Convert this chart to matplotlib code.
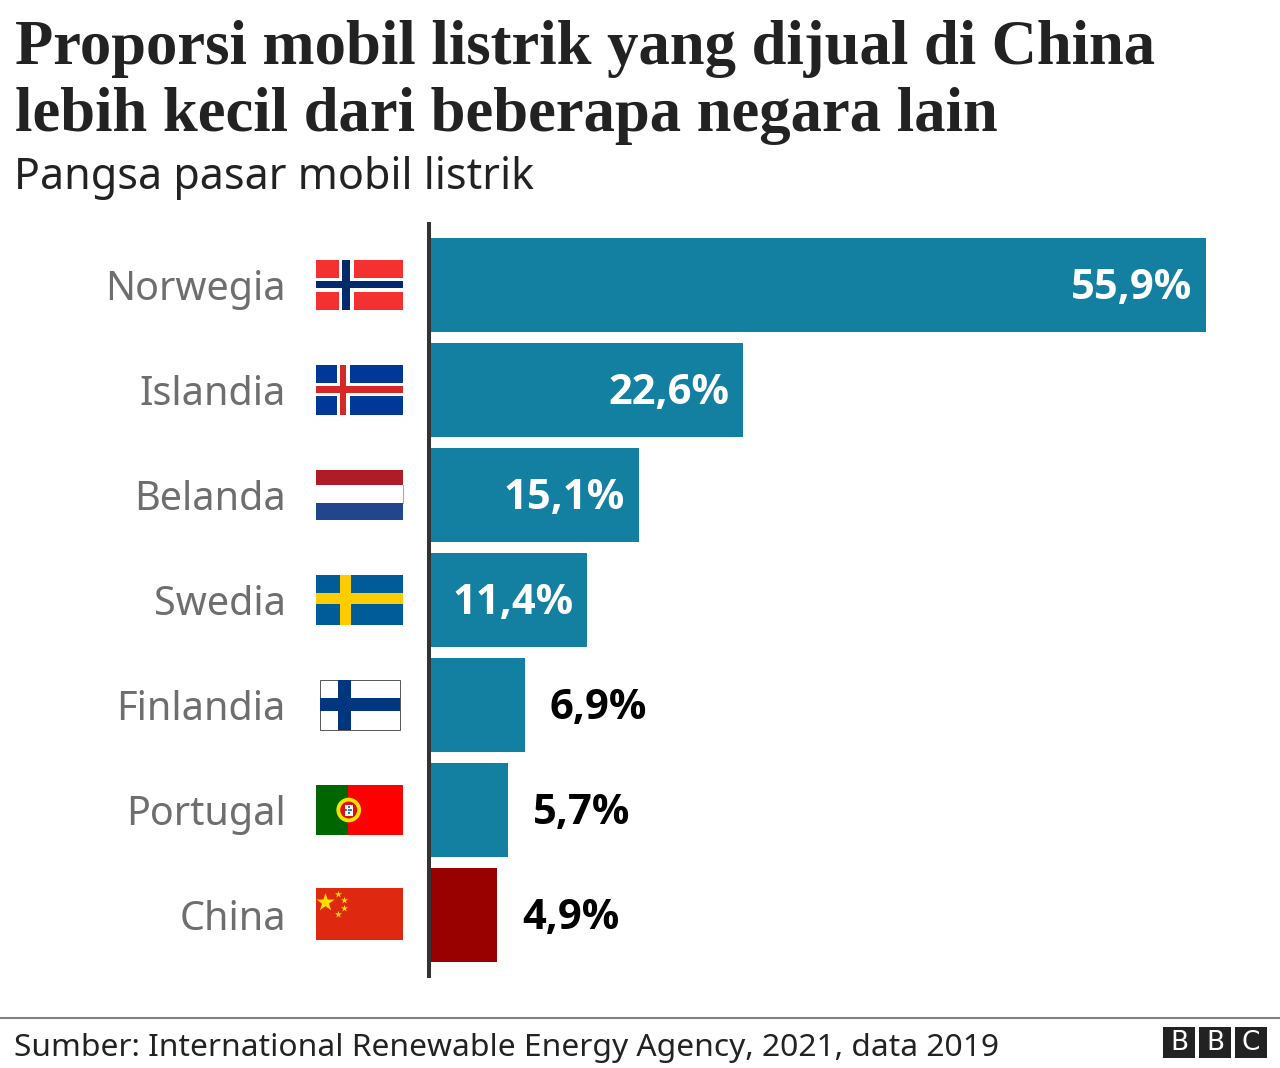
import matplotlib
matplotlib.use("Agg")
import matplotlib.pyplot as plt
from matplotlib.patches import Rectangle, Circle

# ------------------------------------------------------------
# Data
# ------------------------------------------------------------

countries = ["Norwegia", "Islandia", "Belanda", "Swedia", "Finlandia", "Portugal", "China"]
share = [55.9, 22.6, 15.1, 11.4, 6.9, 5.7, 4.9]
share_labels = ["55,9%", "22,6%", "15,1%", "11,4%", "6,9%", "5,7%", "4,9%"]

title_lines = ["Proporsi mobil listrik yang dijual di China",
               "lebih kecil dari beberapa negara lain"]
subtitle = "Pangsa pasar mobil listrik"
source = "Sumber: International Renewable Energy Agency, 2021, data 2019"

BLUE = "#1380A1"
RED = "#990000"
W, H = 1280, 1068

fig = plt.figure(figsize=(W / 100, H / 100), dpi=100, facecolor="white")

# full figure overlay in pixel coordinates, for text and flags
page = fig.add_axes([0, 0, 1, 1], zorder=3)
page.set_xlim(0, W)
page.set_ylim(H, 0)
page.axis("off")
page.patch.set_alpha(0)

# ------------------------------------------------------------
# Bars
# ------------------------------------------------------------

# zero sits under the axis line
ax = fig.add_axes([429 / W, 1 - 978 / H, 777 / W, 756 / H])
positions = list(range(len(countries)))
colors = [RED if c == "China" else BLUE for c in countries]
ax.barh(positions, share, height=94.5 / 105, color=colors)
ax.set_xlim(0, 55.9)
ax.set_ylim(6.6, -0.6)
ax.axis("off")

for pos, value, label in zip(positions, share, share_labels):
    if value > 10:
        ax.text(value - 1.02, pos + 0.03, label, color="white", ha="right", va="center",
                fontsize=30, fontweight="bold", family="Open Sans")
    else:
        ax.text(value + 1.8, pos + 0.03, label, color="black", ha="left", va="center",
                fontsize=30, fontweight="bold", family="Open Sans")
    page.text(286, 290 + pos * 105, countries[pos], color="#6E6E6E", ha="right", va="center",
              fontsize=28.5, family="Noto Sans")

# axis line
page.plot([429, 429], [222, 978], color="#333333", lw=2.9, solid_capstyle="butt")


# ------------------------------------------------------------
# Flags
# ------------------------------------------------------------

def rect(x0, y0, x1, y1, color, **kw):
    page.add_patch(Rectangle((x0, y0), x1 - x0, y1 - y0, facecolor=color, edgecolor="none", **kw))


def nordic(top, base, border, cross, vx0, vx1, hy0, hy1, pad):
    rect(316, top, 403, top + 50, base)
    if border:
        rect(vx0 - pad, top, vx1 + pad, top + 50, border)
        rect(316, hy0 - pad, 403, hy1 + pad, border)
    rect(vx0, top, vx1, top + 50, cross)
    rect(316, hy0, 403, hy1, cross)


nordic(260, "#F43031", "white", "#002A6C", 342, 350, 281, 288, 3.5)
nordic(365, "#003897", "white", "#D72828", 340, 346, 386, 392.5, 3.5)

rect(316, 470, 403, 485, "#AE1C28")
rect(316, 485, 403, 503, "white")
rect(316, 503, 403, 520, "#21468B")
page.plot([403, 403], [485, 503], color="#AAAAAA", lw=0.8)

nordic(575, "#005B99", None, "#FFCC00", 340, 351, 593, 604, 0)

rect(319, 680, 400, 730, "white")
page.add_patch(Rectangle((319.5, 679.5), 80, 50, facecolor="none", edgecolor="#555555", lw=0.7))
rect(338, 680, 351, 730, "#003580")
rect(320, 698, 400, 711, "#003580")

rect(316, 785, 348, 835, "#006600")
rect(348, 785, 403, 835, "#FF0000")
page.add_patch(Circle((348.7, 810), 12.3, facecolor="#F2E600", edgecolor="none"))
page.add_patch(Circle((348.7, 810), 8.5, facecolor="#E01010", edgecolor="none"))
rect(344.5, 804.5, 353, 816, "white")
for bx, by in [(348.7, 807), (346.2, 810), (348.7, 810), (351.2, 810), (348.7, 813)]:
    rect(bx - 1, by - 1, bx + 1, by + 1, "#2C7FC0")

rect(316, 888, 403, 940, "#DE2910")
page.scatter([325], [902], marker="*", s=190, color="#FFDE00", linewidths=0, zorder=4)
page.scatter([338, 343.5, 343.5, 338], [894, 899.7, 907.7, 913.7], marker="*", s=28,
             color="#FFDE00", linewidths=0, zorder=4)

# ------------------------------------------------------------
# Titles and footer
# ------------------------------------------------------------

page.text(15, 64, title_lines[0], fontsize=45.1, fontweight="bold", family="Liberation Serif",
          color="#222222", va="baseline", ha="left")
page.text(15, 131, title_lines[1], fontsize=45.1, fontweight="bold", family="Liberation Serif",
          color="#222222", va="baseline", ha="left")
page.text(14, 189, subtitle, fontsize=31, family="Noto Sans", color="#222222", va="baseline", ha="left")

page.plot([0, W], [1017.5, 1017.5], color="#808080", lw=1.5)
page.text(14, 1056, source, fontsize=22.85, family="Noto Sans", color="#222222", va="baseline", ha="left")

for x0, letter in zip([1163, 1199, 1235], "BBC"):
    rect(x0, 1027, x0 + 32, 1058, "#222222")
    page.text(x0 + 16, 1043, letter, color="white", fontsize=19,
              family="DejaVu Sans", ha="center", va="center")

fig.savefig("out.png", dpi=100)
